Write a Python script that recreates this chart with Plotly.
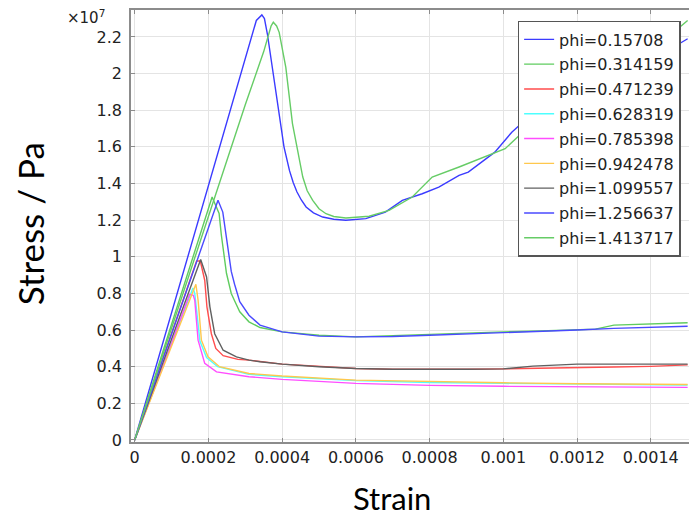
import plotly.graph_objects as go

# stress values in units of 1e7 Pa (axis shows x10^7)
names = ["phi=0.15708", "phi=0.314159", "phi=0.471239", "phi=0.628319", "phi=0.785398",
         "phi=0.942478", "phi=1.099557", "phi=1.256637", "phi=1.413717"]
colors = ["#3b3bff", "#5fcc5f", "#ff4d4d", "#4dffff", "#ff4dff",
          "#ffc84d", "#606060", "#4a4aff", "#66cc66"]

x_015708 = [0, 0.0001, 0.0002, 0.0003, 0.00033, 0.000345, 0.000352, 0.00036, 0.000367, 0.000374,
            0.00039, 0.000405, 0.00042, 0.00043, 0.00044, 0.000452, 0.000465, 0.000485, 0.00051,
            0.00054, 0.000573, 0.000627, 0.00068, 0.000726, 0.00078, 0.000825, 0.00088, 0.000905,
            0.000977, 0.001023, 0.001049, 0.0011, 0.0012, 0.0013, 0.0014, 0.0015]
y_015708 = [0, 0.694, 1.39, 2.08, 2.29, 2.32, 2.30, 2.216, 2.12, 2.03,
            1.80, 1.60, 1.47, 1.405, 1.355, 1.31, 1.272, 1.24, 1.217,
            1.205, 1.199, 1.208, 1.244, 1.308, 1.344, 1.38, 1.444, 1.462,
            1.571, 1.68, 1.727, 1.79, 1.88, 1.97, 2.07, 2.19]

x_0314159 = [0, 0.0001, 0.0002, 0.00021, 0.000229, 0.000235, 0.000249, 0.000262, 0.000271,
             0.000285, 0.00031, 0.00034, 0.0004, 0.0005, 0.0006, 0.0007, 0.0008, 0.0009, 0.001,
             0.0011, 0.0012, 0.00125, 0.0013, 0.0014, 0.0015]
y_0314159 = [0, 0.63, 1.26, 1.326, 1.236, 1.12, 0.91, 0.80, 0.76,
             0.70, 0.645, 0.614, 0.59, 0.572, 0.563, 0.57, 0.58, 0.585, 0.59,
             0.595, 0.60, 0.605, 0.627, 0.635, 0.64]

x_0471239 = [0, 0.0001, 0.000168, 0.000178, 0.00019, 0.000196, 0.000208, 0.00022, 0.00024,
             0.00028, 0.00031, 0.0004, 0.0005, 0.0006, 0.0007, 0.0008, 0.0009, 0.001, 0.0011,
             0.0012, 0.0013, 0.0014, 0.0015]
y_0471239 = [0, 0.58, 0.977, 0.977, 0.872, 0.727, 0.58, 0.50, 0.46,
             0.44, 0.436, 0.414, 0.40, 0.39, 0.386, 0.385, 0.386, 0.388, 0.39,
             0.396, 0.398, 0.402, 0.41]

x_0628319 = [0, 0.0001, 0.000158, 0.000163, 0.000168, 0.000177, 0.000195, 0.000225, 0.00031,
             0.0004, 0.0006, 0.0008, 0.001, 0.0012, 0.0015]
y_0628319 = [0, 0.525, 0.83, 0.80, 0.70, 0.54, 0.45, 0.40, 0.358,
             0.345, 0.324, 0.314, 0.309, 0.305, 0.30]

x_0785398 = [0, 0.0001, 0.000149, 0.000159, 0.000163, 0.000172, 0.00019, 0.000222, 0.00031,
             0.0004, 0.0006, 0.0008, 0.001, 0.0012, 0.0015]
y_0785398 = [0, 0.525, 0.795, 0.79, 0.763, 0.545, 0.418, 0.372, 0.345,
             0.331, 0.309, 0.298, 0.293, 0.29, 0.287]

x_0942478 = [0, 0.0001, 0.000166, 0.000172, 0.000181, 0.000199, 0.00023, 0.00031, 0.0004,
             0.0006, 0.0008, 0.001, 0.0012, 0.0015]
y_0942478 = [0, 0.51, 0.85, 0.763, 0.545, 0.454, 0.40, 0.363, 0.349,
             0.327, 0.318, 0.312, 0.307, 0.303]

x_1099557 = [0, 0.0001, 0.000179, 0.000195, 0.000204, 0.000217, 0.00024, 0.000276, 0.00031,
             0.00034, 0.0004, 0.0005, 0.0006, 0.0007, 0.0008, 0.0009, 0.001, 0.00108, 0.0012,
             0.0013, 0.0014, 0.0015]
y_1099557 = [0, 0.55, 0.985, 0.89, 0.727, 0.58, 0.49, 0.454, 0.436,
             0.427, 0.414, 0.40, 0.39, 0.386, 0.385, 0.386, 0.388, 0.403, 0.414,
             0.415, 0.415, 0.414]

x_1256637 = [0, 0.0001, 0.0002, 0.000226, 0.000239, 0.000249, 0.000262, 0.000271, 0.000285,
             0.00031, 0.00034, 0.0004, 0.0005, 0.0006, 0.0007, 0.0008, 0.0009, 0.001, 0.0011,
             0.0012, 0.0013, 0.0014, 0.0015]
y_1256637 = [0, 0.58, 1.16, 1.308, 1.244, 1.11, 0.92, 0.85, 0.755,
             0.681, 0.627, 0.59, 0.567, 0.563, 0.565, 0.572, 0.578, 0.585, 0.592,
             0.60, 0.609, 0.615, 0.621]

x_1413717 = [0, 0.0001, 0.0002, 0.0003, 0.00035, 0.000361, 0.00037, 0.000376, 0.000385, 0.000392,
             0.0004, 0.00041, 0.000428, 0.000442, 0.000456, 0.000468, 0.000483, 0.0005, 0.000519,
             0.00054, 0.000573, 0.000636, 0.00069, 0.000753, 0.000807, 0.00088, 0.00095,
             0.001005, 0.001049, 0.0011, 0.0012, 0.0013, 0.0014, 0.0015]
y_1413717 = [0, 0.61, 1.22, 1.83, 2.12, 2.20, 2.26, 2.28, 2.26, 2.225,
             2.14, 2.034, 1.727, 1.58, 1.435, 1.36, 1.308, 1.262, 1.235,
             1.22, 1.212, 1.221, 1.253, 1.326, 1.435, 1.49, 1.544,
             1.59, 1.673, 1.75, 1.86, 1.98, 2.12, 2.29]

xs = [x_015708, x_0314159, x_0471239, x_0628319, x_0785398, x_0942478, x_1099557, x_1256637, x_1413717]
ys = [y_015708, y_0314159, y_0471239, y_0628319, y_0785398, y_0942478, y_1099557, y_1256637, y_1413717]

fig = go.Figure()
for n, c, xv, yv in zip(names, colors, xs, ys):
    fig.add_trace(go.Scatter(x=xv, y=yv, mode="lines", name=n, legendgroup=n,
                             line=dict(color=c, width=1.4)))

axis_common = dict(showgrid=True, gridcolor="#e4e4e4", gridwidth=1, zeroline=False,
                   showline=True, linecolor="#8c8c8c", linewidth=1.5, mirror="ticks",
                   ticks="inside", ticklen=4, tickcolor="#8c8c8c",
                   tickfont=dict(family="DejaVu Sans", size=16, color="#222"))

fig.update_xaxes(range=[-0.00001, 0.00152], dtick=0.0002, tick0=0, tickformat=".4~f", **axis_common)
fig.update_yaxes(range=[-0.011, 2.347], dtick=0.2, tick0=0, tickformat=".1~f",
                 ticklabelstandoff=4, **axis_common)

# page body has an 8px margin, so the figure is sized/placed to land where the reference is
fig.add_annotation(text="×10<sup>7</sup>", xref="paper", yref="paper", x=-0.117, y=1.0,
                   xanchor="left", yanchor="bottom", yshift=-19, showarrow=False,
                   font=dict(family="DejaVu Sans", size=15, color="#222"))
fig.add_annotation(text="Stress / Pa", xref="paper", yref="paper", x=-0.18, y=0.505,
                   textangle=-90, showarrow=False, xanchor="center", yanchor="middle",
                   font=dict(family="Lato", size=35, color="black"))
fig.add_annotation(text="Strain", xref="paper", yref="paper", x=0.462, y=-0.172,
                   yshift=-3, showarrow=False, xanchor="center", yanchor="bottom",
                   font=dict(family="Lato", size=31, color="black"))

fig.update_layout(
    width=689, height=510,
    margin=dict(l=123, r=0, t=1, b=76),
    plot_bgcolor="white", paper_bgcolor="white",
    legend=dict(x=0.6855, y=0.9746, xanchor="left", yanchor="top",
                bgcolor="white", bordercolor="#555", borderwidth=1.5,
                tracegroupgap=1,
                font=dict(family="DejaVu Sans", size=16, color="#222")),
)

fig.write_html("out.html")
